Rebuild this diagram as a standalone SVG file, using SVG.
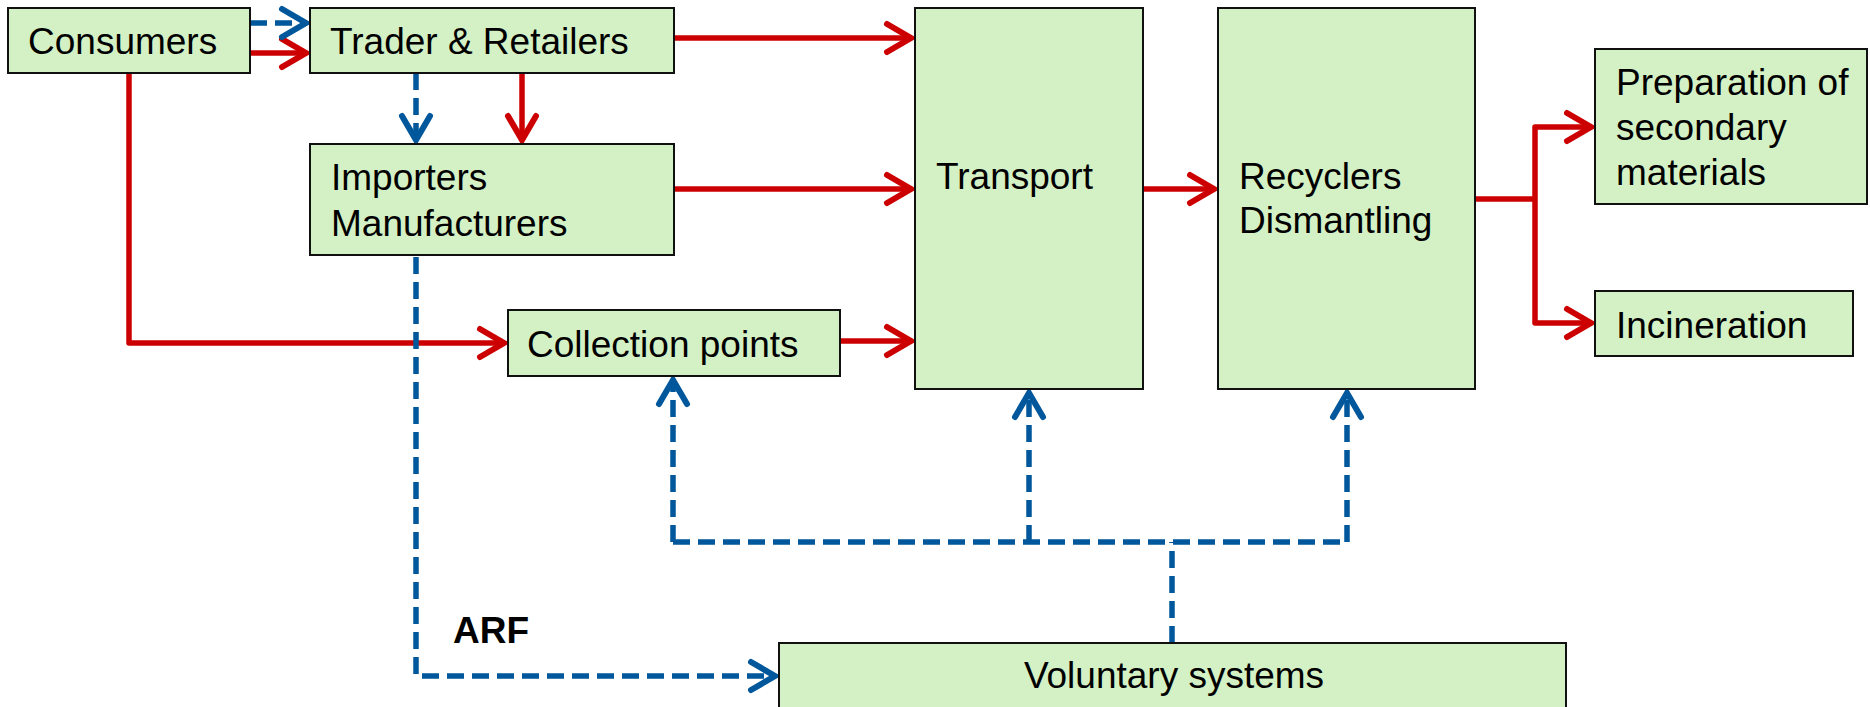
<svg xmlns="http://www.w3.org/2000/svg" width="1870" height="707" viewBox="0 0 1870 707">
<style>
.box{fill:#d4f1c5;stroke:#111;stroke-width:2}
.t{font-family:"Liberation Sans",Arial,sans-serif;font-size:37px;fill:#000}
.b{font-weight:bold}
.red{fill:none;stroke:#cc0000;stroke-width:5.5;stroke-linejoin:round}
.blue{fill:none;stroke:#00579b;stroke-width:5.5;stroke-dasharray:17 8;stroke-linejoin:round}
</style>
<defs>
<marker id="ar" markerUnits="userSpaceOnUse" markerWidth="40" markerHeight="40" viewBox="-30 -20 40 40" refX="1" refY="0" orient="auto">
<path d="M-24 -14 L0 0 L-24 14" fill="none" stroke="#cc0000" stroke-width="6" stroke-linecap="round" stroke-linejoin="miter"/>
</marker>
<marker id="ab" markerUnits="userSpaceOnUse" markerWidth="40" markerHeight="40" viewBox="-30 -20 40 40" refX="1" refY="0" orient="auto">
<path d="M-24 -14 L0 0 L-24 14" fill="none" stroke="#00579b" stroke-width="6" stroke-linecap="round" stroke-linejoin="miter"/>
</marker>
</defs>
<g id="connectors">
<path class="red" d="M250 53 H307" marker-end="url(#ar)"/>
<path class="red" d="M522 73 V141" marker-end="url(#ar)"/>
<path class="red" d="M674 38 H912" marker-end="url(#ar)"/>
<path class="red" d="M674 189 H912" marker-end="url(#ar)"/>
<path class="red" d="M129 73 V343 H505" marker-end="url(#ar)"/>
<path class="red" d="M840 341 H912" marker-end="url(#ar)"/>
<path class="red" d="M1143 189 H1215" marker-end="url(#ar)"/>
<path class="red" d="M1475 199 H1535"/>
<path class="red" d="M1535 199 V127 H1592" marker-end="url(#ar)"/>
<path class="red" d="M1535 199 V323 H1592" marker-end="url(#ar)"/>
<path class="blue" d="M250 23 H307" marker-end="url(#ab)"/>
<path class="blue" d="M416 73 V141" marker-end="url(#ab)"/>
<path class="blue" d="M416 257 V676 H776" marker-end="url(#ab)"/>
<path class="blue" d="M1172 643 V542"/>
<path class="blue" d="M673 542 H1347"/>
<path class="blue" d="M673 542 V379" marker-end="url(#ab)"/>
<path class="blue" d="M1029 542 V392" marker-end="url(#ab)"/>
<path class="blue" d="M1347 542 V392" marker-end="url(#ab)"/>
</g>
<g id="consumers"><rect class="box" x="8" y="8" width="242" height="65"/><text class="t" x="28" y="54">Consumers</text></g>
<g id="trader"><rect class="box" x="310" y="8" width="364" height="65"/><text class="t" x="330" y="54">Trader &amp; Retailers</text></g>
<g id="importers"><rect class="box" x="310" y="144" width="364" height="111"/><text class="t" x="331" y="190">Importers</text><text class="t" x="331" y="236">Manufacturers</text></g>
<g id="collection"><rect class="box" x="508" y="310" width="332" height="66"/><text class="t" x="527" y="357">Collection points</text></g>
<g id="transport"><rect class="box" x="915" y="8" width="228" height="381"/><text class="t" x="936" y="189">Transport</text></g>
<g id="recyclers"><rect class="box" x="1218" y="8" width="257" height="381"/><text class="t" x="1239" y="189">Recyclers</text><text class="t" x="1239" y="233">Dismantling</text></g>
<g id="preparation"><rect class="box" x="1595" y="49" width="272" height="155"/><text class="t" x="1616" y="95">Preparation of</text><text class="t" x="1616" y="140">secondary</text><text class="t" x="1616" y="185">materials</text></g>
<g id="incineration"><rect class="box" x="1595" y="291" width="258" height="65"/><text class="t" x="1616" y="338">Incineration</text></g>
<g id="voluntary"><rect class="box" x="779" y="643" width="787" height="80"/><text class="t" x="1174" y="688" text-anchor="middle">Voluntary systems</text></g>
<g id="arf-label"><text class="t b" x="453" y="643">ARF</text></g>
</svg>
